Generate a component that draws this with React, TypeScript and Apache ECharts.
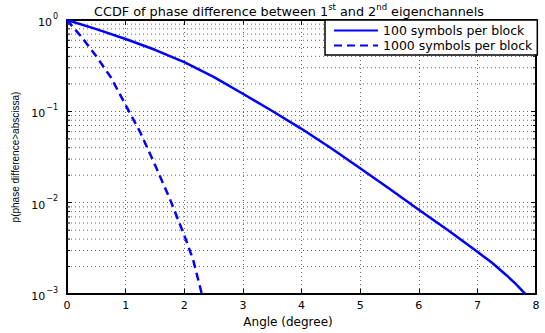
import React, { useEffect, useRef } from "react";
import * as echarts from "echarts";

const seriesNames = ["100 symbols per block", "1000 symbols per block"];
const xTicks = [0, 1, 2, 3, 4, 5, 6, 7, 8];
const yDecades = [0.001, 0.01, 0.1, 1];
const minorMultipliers = [2, 3, 4, 5, 6, 7, 8, 9];

const solidX = [0, 0.5, 1, 1.5, 2, 2.5, 3, 3.5, 4, 4.5, 5, 5.5, 6, 6.5, 7, 7.25, 7.5, 7.65, 7.82];
const solidY = [1, 0.794, 0.619, 0.472, 0.346, 0.239, 0.156, 0.101, 0.0644, 0.0397, 0.0238, 0.0142, 0.0084, 0.005, 0.0029, 0.0022, 0.0016, 0.0013, 0.001];

const dashX = [0, 0.25, 0.5, 0.75, 1, 1.25, 1.5, 1.75, 2, 2.15, 2.3];
const dashY = [1, 0.65, 0.4, 0.235, 0.117, 0.059, 0.026, 0.0112, 0.0044, 0.0024, 0.001];

const FONT = "DejaVu Sans";

export default function App() {
  const ref = useRef<HTMLDivElement>(null);
  useEffect(() => {
    document.body.style.margin = "0";
    if (!ref.current) return;
    const chart = echarts.init(ref.current, null, { renderer: "svg" });
    const minorValues: number[][] = [];
    yDecades.slice(0, 3).forEach((d) =>
      minorMultipliers.forEach((m) => minorValues.push([0, d * m]))
    );
    const supLabel = (v: number) => {
      const e = Math.round(Math.log10(v));
      return `{b|10}{s|${e < 0 ? "\u2212" + -e : e}}`;
    };
    const rich = {
      b: { fontFamily: FONT, fontSize: 11, color: "#000", lineHeight: 16, verticalAlign: "bottom" },
      s: { fontFamily: FONT, fontSize: 8, color: "#000", lineHeight: 16, verticalAlign: "top", padding: [0, 0, 0, 1] },
    };
    const gridLine = { color: "#666", type: [1, 3], width: 1 };
    chart.setOption({
      animation: false,
      backgroundColor: "#fff",
      grid: { left: 67, right: 9, top: 20, bottom: 37, show: false },
      graphic: [
        {
          type: "text",
          x: 289,
          y: 10,
          style: {
            text: "{a|CCDF of phase difference between 1}{s|st}{a| and 2}{s|nd}{a| eigenchannels}",
            align: "center",
            verticalAlign: "middle",
            rich: {
              a: { fontFamily: FONT, fontSize: 12.8, fill: "#000", lineHeight: 16, verticalAlign: "bottom" },
              s: { fontFamily: FONT, fontSize: 8.5, fill: "#000", lineHeight: 16, verticalAlign: "top" },
            },
          },
        },
      ],
      legend: {
        data: seriesNames,
        orient: "vertical",
        left: 325,
        top: 20,
        backgroundColor: "#fff",
        borderColor: "#000",
        borderWidth: 1.5,
        borderRadius: 0,
        padding: [4, 5, 3, 8],
        itemGap: 2,
        itemWidth: 44,
        itemHeight: 12,
        itemStyle: { opacity: 0 },
        textStyle: { fontFamily: FONT, fontSize: 12.5, color: "#000" },
        z: 10,
      },
      xAxis: [
        {
          type: "value",
          min: 0,
          max: 8,
          interval: 1,
          name: "Angle (degree)",
          nameLocation: "middle",
          nameGap: 18,
          nameTextStyle: { fontFamily: FONT, fontSize: 12, color: "#000", padding: [0, 27, 0, 0] },
          axisLine: { lineStyle: { color: "#000", width: 2 } },
          axisTick: { inside: true, length: 5, lineStyle: { color: "#000" } },
          axisLabel: { fontFamily: FONT, fontSize: 11, color: "#000", margin: 6 },
          splitLine: { show: true, lineStyle: gridLine },
        },
        {
          type: "value",
          position: "top",
          min: 0,
          max: 8,
          interval: 1,
          axisLine: { onZero: false, lineStyle: { color: "#000", width: 2 } },
          axisTick: { inside: true, length: 5, lineStyle: { color: "#000" } },
          axisLabel: { show: false },
          splitLine: { show: false },
        },
      ],
      yAxis: [
        {
          type: "log",
          logBase: 10,
          min: 0.001,
          max: 1,
          name: "p(phase difference>abscissa)",
          nameLocation: "middle",
          nameGap: 31,
          nameTextStyle: { fontFamily: "Liberation Sans", fontSize: 10, color: "#000" },
          axisLine: { lineStyle: { color: "#000", width: 2 } },
          axisTick: { inside: true, length: 5, lineStyle: { color: "#000" } },
          axisLabel: { formatter: supLabel, rich, margin: 9 },
          splitLine: { show: true, lineStyle: gridLine },
        },
        {
          type: "log",
          logBase: 10,
          min: 0.001,
          max: 1,
          position: "right",
          axisLine: { onZero: false, lineStyle: { color: "#000", width: 2 } },
          axisTick: { inside: true, length: 5, lineStyle: { color: "#000" } },
          axisLabel: { show: false },
          splitLine: { show: false },
        },
      ],
      series: [
        {
          type: "custom",
          name: "minor",
          silent: true,
          xAxisIndex: 0,
          yAxisIndex: 0,
          z: 1,
          encode: { x: 0, y: 1 },
          data: minorValues,
          renderItem: (params: any, api: any) => {
            const v = api.value(1);
            const p0 = api.coord([0, v]);
            const p1 = api.coord([8, v]);
            const st = { stroke: "#000", lineWidth: 1 };
            return {
              type: "group",
              children: [
                {
                  type: "line",
                  shape: { x1: p0[0], y1: p0[1], x2: p1[0], y2: p1[1] },
                  style: { stroke: "#666", lineWidth: 1, lineDash: [1, 3] },
                },
                { type: "line", shape: { x1: p0[0], y1: p0[1], x2: p0[0] + 3, y2: p0[1] }, style: st },
                { type: "line", shape: { x1: p1[0], y1: p1[1], x2: p1[0] - 3, y2: p1[1] }, style: st },
              ],
            };
          },
        },
        {
          type: "line",
          name: seriesNames[0],
          data: solidX.map((x, i) => [x, solidY[i]]),
          showSymbol: false,
          symbol: "none",
          smooth: false,
          color: "#0000ff",
          lineStyle: { color: "#0000ff", width: 2.5 },
          z: 5,
        },
        {
          type: "line",
          name: seriesNames[1],
          data: dashX.map((x, i) => [x, dashY[i]]),
          showSymbol: false,
          symbol: "none",
          smooth: false,
          color: "#0000ff",
          lineStyle: { color: "#0000ff", width: 2.5, type: [8, 5] },
          z: 5,
        },
      ],
    });
    return () => chart.dispose();
  }, []);
  return <div ref={ref} style={{ width: 545, height: 333 }} />;
}
